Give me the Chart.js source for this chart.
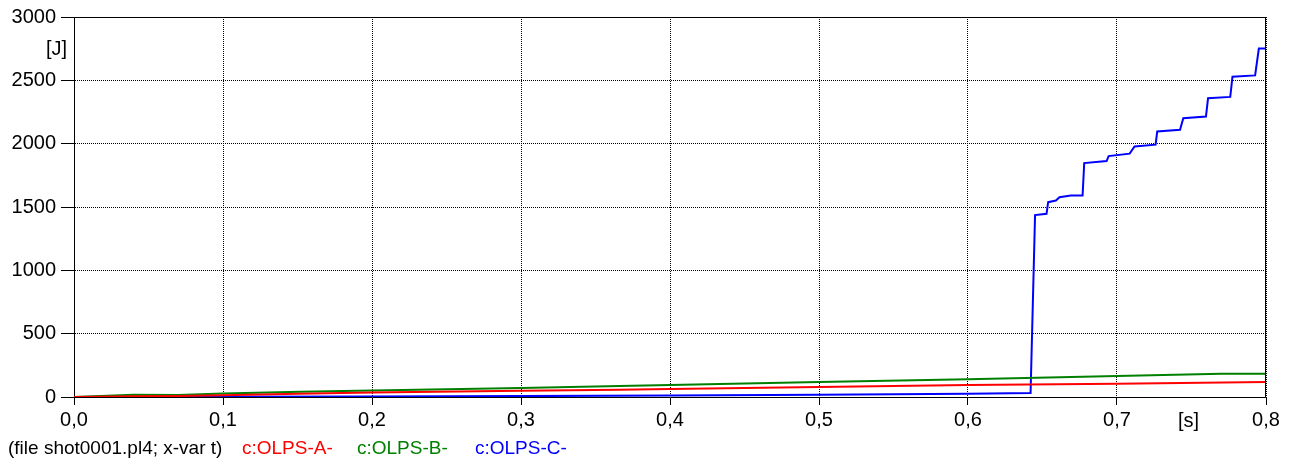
<!DOCTYPE html>
<html>
<head>
<meta charset="utf-8">
<script src="https://cdn.jsdelivr.net/npm/chart.js@4"></script>
<style>
html,body{margin:0;padding:0;background:#fff;}
#wrap{position:relative;width:1297px;height:462px;}
canvas{display:block;}
</style>
</head>
<body>
<div id="wrap"><canvas id="c" width="1297" height="462"></canvas></div>
<script>
// ---- data ----
const xTicks = [0, 0.1, 0.2, 0.3, 0.4, 0.5, 0.6, 0.7, 0.8];
const yTicks = [0, 500, 1000, 1500, 2000, 2500, 3000];

const tA = [0, 0.04, 0.07, 0.1, 0.15, 0.2, 0.3, 0.366, 0.4, 0.5, 0.6, 0.7, 0.8];
const valA = [0, 5, 8, 14, 26, 35, 50, 58, 63, 79, 94, 105, 118];

const tB = [0, 0.04, 0.07, 0.1, 0.152, 0.2, 0.3, 0.366, 0.4, 0.5, 0.6, 0.7, 0.77, 0.8];
const valB = [0, 18, 15, 28, 42, 52, 72, 86, 94, 118, 141, 166, 183, 183];

const tC = [0, 0.1, 0.2, 0.3, 0.4, 0.5, 0.6, 0.642, 0.645, 0.6527, 0.6538, 0.659, 0.6614, 0.669, 0.6769, 0.678,
            0.693, 0.6944, 0.7085, 0.7118, 0.7259, 0.727, 0.7423, 0.7445, 0.7597, 0.7611, 0.776, 0.7775,
            0.7927, 0.7952, 0.8];
const valC = [0, 1, 4, 7, 12, 18, 26, 31, 1436, 1446, 1538, 1551, 1577, 1590, 1590, 1847,
              1863, 1902, 1921, 1978, 1992, 2096, 2110, 2201, 2214, 2358, 2369, 2529,
              2539, 2751, 2751];

const seriesNames = ['c:OLPS-A-', 'c:OLPS-B-', 'c:OLPS-C-'];
const fileLabel = '(file shot0001.pl4; x-var t)';
const yUnit = '[J]';
const xUnit = '[s]';

const FONT = '"Liberation Sans", Arial, sans-serif';
const pts = (t, v) => t.map((x, i) => ({x, y: v[i]}));

const framePlugin = {
  id: 'frame',
  afterDatasetsDraw(chart) {
    const {ctx, chartArea: a} = chart;
    ctx.save();
    ctx.strokeStyle = '#000';
    ctx.lineWidth = 1;
    ctx.beginPath();
    ctx.moveTo(Math.round(a.left) + 0.5, Math.round(a.top) + 0.5);
    ctx.lineTo(Math.round(a.right) - 0.5, Math.round(a.top) + 0.5);
    ctx.lineTo(Math.round(a.right) - 0.5, Math.round(a.bottom) + 0.5);
    ctx.stroke();
    ctx.restore();
  },
  afterDraw(chart) {
    const {ctx} = chart;
    const xs = chart.scales.x;
    ctx.save();
    ctx.fillStyle = '#000';
    ctx.font = '20px ' + FONT;
    ctx.textBaseline = 'middle';
    ctx.textAlign = 'right';
    ctx.fillText(yUnit, 67, 49);
    ctx.textAlign = 'center';
    ctx.textBaseline = 'alphabetic';
    ctx.fillText(xUnit, xs.getPixelForValue(0.748), 427);
    ctx.font = '19px ' + FONT;
    ctx.textAlign = 'left';
    ctx.fillText(fileLabel, 8, 454);
    const cols = ['#ff0000', '#008000', '#0000ff'];
    const xpos = [242, 357, 475];
    seriesNames.forEach((n, i) => {
      ctx.fillStyle = cols[i];
      ctx.fillText(n, xpos[i], 454);
    });
    ctx.restore();
  }
};

new Chart(document.getElementById('c'), {
  type: 'line',
  data: {
    datasets: [
      {label: seriesNames[0], data: pts(tA, valA), borderColor: '#ff0000', borderWidth: 2, pointRadius: 0, tension: 0, fill: false},
      {label: seriesNames[1], data: pts(tB, valB), borderColor: '#008000', borderWidth: 2, pointRadius: 0, tension: 0, fill: false},
      {label: seriesNames[2], data: pts(tC, valC), borderColor: '#0000ff', borderWidth: 2, pointRadius: 0, tension: 0, fill: false}
    ]
  },
  plugins: [framePlugin],
  options: {
    responsive: false,
    animation: false,
    devicePixelRatio: 1,
    layout: {padding: {left: 0, right: 31, top: 16, bottom: 0}},
    plugins: {legend: {display: false}, tooltip: {enabled: false}, title: {display: false}},
    scales: {
      x: {
        type: 'linear', min: 0, max: 0.8,
        afterFit: s => { s.height = 65; },
        afterBuildTicks: s => { s.ticks = xTicks.map(v => ({value: v})); },
        ticks: {
          color: '#000', font: {size: 20, family: FONT}, padding: 3, maxRotation: 0,
          callback: v => v.toFixed(1).replace('.', ',')
        },
        grid: {color: '#000', lineWidth: 1, tickLength: 8, tickBorderDash: [], tickColor: '#000'},
        border: {display: true, color: '#000', width: 1, dash: [1, 1]}
      },
      y: {
        type: 'linear', min: 0, max: 3000,
        afterFit: s => { s.width = 74; },
        afterBuildTicks: s => { s.ticks = yTicks.map(v => ({value: v})); },
        ticks: {color: '#000', font: {size: 20, family: FONT}, padding: 5, callback: v => String(v)},
        grid: {color: '#000', lineWidth: 1, tickLength: 13, tickBorderDash: [], tickColor: '#000'},
        border: {display: true, color: '#000', width: 1, dash: [1, 1]}
      }
    }
  }
});
</script>
</body>
</html>
